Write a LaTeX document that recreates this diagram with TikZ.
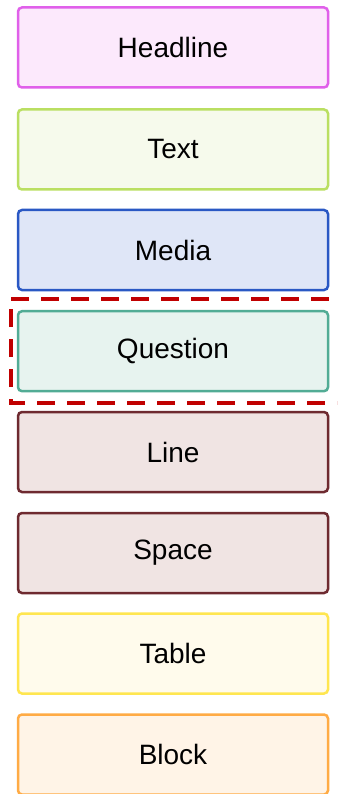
\documentclass[tikz,border=0pt]{standalone}
\usepackage{fontspec}
\setmainfont{Liberation Sans}
\definecolor{hlS}{HTML}{E060EA}\definecolor{hlF}{HTML}{FCE9FC}
\definecolor{txS}{HTML}{BADF62}\definecolor{txF}{HTML}{F6FAEC}
\definecolor{mdS}{HTML}{2A58C4}\definecolor{mdF}{HTML}{DFE6F7}
\definecolor{qsS}{HTML}{52AC95}\definecolor{qsF}{HTML}{E7F3EF}
\definecolor{lnS}{HTML}{6E2A30}\definecolor{lnF}{HTML}{F0E4E3}
\definecolor{tbS}{HTML}{FFE650}\definecolor{tbF}{HTML}{FFFBEC}
\definecolor{bkS}{HTML}{FFAB45}\definecolor{bkF}{HTML}{FFF4E7}
\definecolor{selR}{HTML}{C00000}
\begin{document}
\begin{tikzpicture}[x=1pt,y=-1pt,
  item/.style={draw=#1S,fill=#1F,line width=2.5pt,rounded corners=4pt,
    minimum width=310pt,minimum height=80pt,inner sep=0pt,
    font=\fontsize{28}{30}\selectfont,text=black},
  selbox/.style={draw=selR,line width=3.6pt,dash pattern=on 18pt off 12pt}]
\useasboundingbox (0,0) rectangle (337,794);
\clip (0,0) rectangle (337,794);
\fill[white] (0,0) rectangle (337,794);
\node[item=hl] (headline) at (173,47.5) {Headline};
\node[item=tx] (text) at (173,149.5) {Text};
\node[item=md] (media) at (173,250) {Media};
\node[item=qs] (question) at (173,351.2) {Question};
\node[item=ln] (line) at (173,452) {Line};
\node[item=ln] (space) at (173,553) {Space};
\node[item=tb] (table) at (173,653.5) {Table};
\node[item=bk] (block) at (173,754.5) {Block};
\draw[selbox] (11,299) -- (341,299) -- (341,403) -- (11,403) -- cycle;
\end{tikzpicture}
\end{document}
